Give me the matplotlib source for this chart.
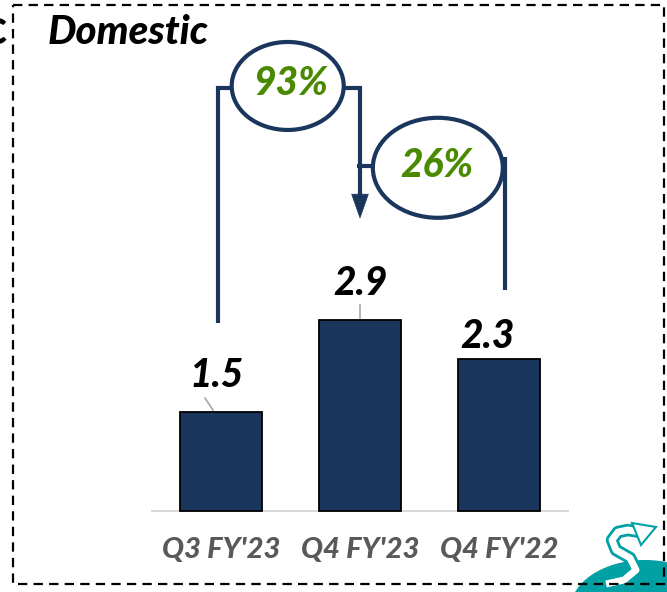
import matplotlib.pyplot as plt
from matplotlib.patches import Ellipse, Rectangle, Polygon
import numpy as np

# data
categories = ["Q3 FY'23", "Q4 FY'23", "Q4 FY'22"]
values = [1.5, 2.9, 2.3]
growth_labels = ['93%', '26%']
title = 'Domestic'

navy = '#1B365D'
green = '#4A8A00'
grey_text = '#595959'
teal = '#00A0A4'
font = ['Lato', 'DejaVu Sans']
heavy = 'black'

W, H = 667, 592
fig = plt.figure(figsize=(W / 100, H / 100), dpi=100)

# main axes: 139 px per category, 66 px per unit, baseline at y=511 px
px_x, px_y = 139.0, 66.0
x0_px, base_px = 221.0, 511.0
ax = fig.add_axes([0, 0, 1, 1])
ax.set_xlim(-x0_px / px_x, (W - x0_px) / px_x)
ax.set_ylim(-(H - base_px) / px_y, base_px / px_y)
ax.axis('off')

x = np.arange(len(categories))
ax.bar(x, values, width=0.59, color=navy, edgecolor='black', linewidth=1.3, zorder=3)
ax.plot([-0.496, 2.496], [0, 0], color='#D9D9D9', lw=1.5, zorder=2)

for i, c in enumerate(categories):
    ax.text(i, -0.59, c, ha='center', va='center', fontsize=21, fontweight=heavy,
            fontstyle='italic', color=grey_text, family=font)

# value labels with leader lines
lab_off = [(-0.03, 0.56), (0.0, 0.55), (-0.08, 0.35)]
for i, v in enumerate(values):
    dx, dy = lab_off[i]
    ax.text(i + dx, v + dy, f'{v:.1f}', ha='center', va='center', fontsize=28,
            fontweight=heavy, fontstyle='italic', color='black', family=font, zorder=5)
ax.plot([-0.115, -0.058], [values[0] + 0.21, values[0] + 0.03], color='#A6A6A6', lw=1.2)
ax.plot([1.0, 1.0], [values[1] + 0.22, values[1] + 0.03], color='#A6A6A6', lw=1.2)

# growth brackets
lw = 3.0
top1 = 6.41
ax.plot([-0.02, -0.02, 0.08], [values[1] - 0.05, top1, top1], color=navy, lw=lw,
        solid_joinstyle='miter', solid_capstyle='butt')
ax.add_patch(Ellipse((0.48, 6.44), 0.806, 1.333, fill=False, edgecolor=navy, lw=lw, zorder=4))
ax.plot([0.885, 1.0, 1.0], [top1, top1, 4.75], color=navy, lw=lw,
        solid_joinstyle='miter', solid_capstyle='butt')
ax.add_patch(Polygon([[0.94, 4.80], [1.06, 4.80], [1.0, 4.44]], closed=True,
                     facecolor=navy, edgecolor=navy, lw=0.5))
ax.plot([0.98, 1.09], [5.23, 5.23], color=navy, lw=lw, solid_capstyle='butt')
ax.add_patch(Ellipse((1.56, 5.20), 0.935, 1.515, fill=False, edgecolor=navy, lw=lw, zorder=4))
ax.plot([2.04, 2.04], [5.36, 3.35], color=navy, lw=lw, solid_capstyle='butt')

ax.text(0.50, 6.47, growth_labels[0], ha='center', va='center', fontsize=28,
        fontweight=heavy, fontstyle='italic', color=green, family=font)
ax.text(1.555, 5.23, growth_labels[1], ha='center', va='center', fontsize=28,
        fontweight=heavy, fontstyle='italic', color=green, family=font)

# decoration layer in pixel coordinates
deco = fig.add_axes([0, 0, 1, 1], zorder=5)
deco.set_xlim(0, W)
deco.set_ylim(H, 0)
deco.axis('off')
deco.patch.set_alpha(0)

deco.text(48, 33, title, ha='left', va='center', fontsize=29, fontweight=heavy,
          fontstyle='italic', color='black', family=font)
deco.text(6, 33, 'C', ha='right', va='center', fontsize=26, fontweight=heavy, color='black',
          family=font)

# logo corner
deco.add_patch(Ellipse((645, 610), 150, 100, facecolor=teal, edgecolor='none', zorder=1))
sx = np.array([606, 624, 636, 630, 616, 612, 618, 628, 640])
sy = np.array([584, 580, 570, 558, 550, 540, 532, 530, 532])
deco.plot(sx, sy, color=teal, lw=9, solid_capstyle='butt', zorder=2)
deco.plot(sx, sy, color='white', lw=5, solid_capstyle='butt', zorder=3)
deco.add_patch(Polygon([[632, 523], [656, 527], [641, 545]], closed=True,
                       facecolor='white', edgecolor=teal, lw=1.5, zorder=4))

# dashed frame
deco.add_patch(Rectangle((13, 5), 651, 579, fill=False, edgecolor='black', lw=1.6,
                         linestyle=(0, (4.2, 2.8)), zorder=6))

fig.savefig('out.png', dpi=100)
